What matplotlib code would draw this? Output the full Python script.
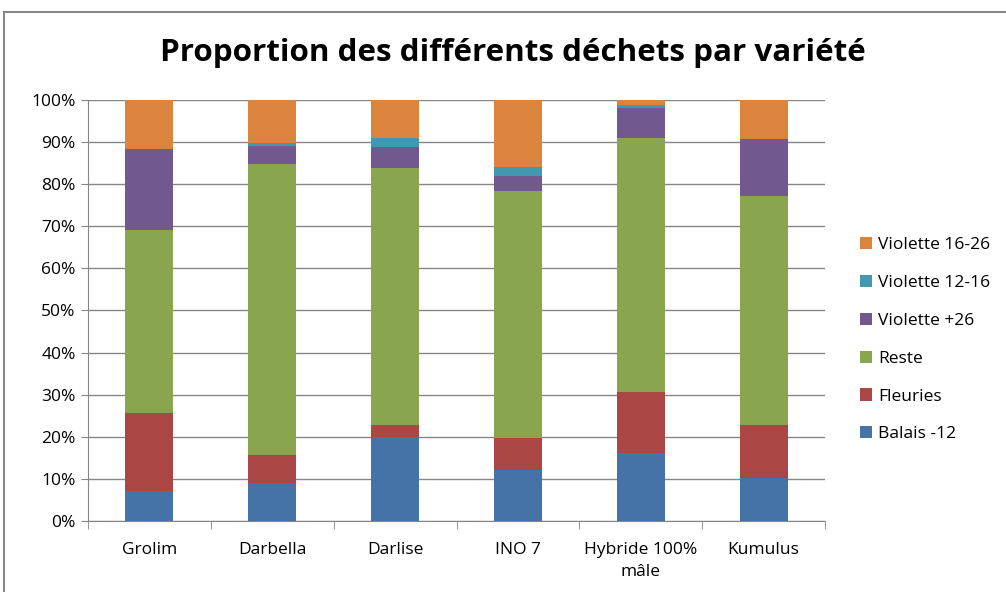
import matplotlib
matplotlib.use("Agg")
import matplotlib.pyplot as plt
from matplotlib.patches import Rectangle
from matplotlib.ticker import FuncFormatter, MultipleLocator
import numpy as np

categories = ["Grolim", "Darbella", "Darlise", "INO 7", "Hybride 100%\nmâle", "Kumulus"]
balais_12 = [7.2, 9.0, 20.0, 12.1, 16.2, 10.2]
fleuries = [18.4, 6.7, 2.7, 7.7, 14.4, 12.7]
reste = [43.5, 69.0, 61.1, 58.7, 60.4, 54.2]
violette_26p = [19.3, 4.4, 5.0, 3.4, 7.0, 13.7]
violette_12_16 = [0.0, 0.7, 2.2, 2.2, 0.8, 0.0]
violette_16_26 = [11.6, 10.2, 9.0, 15.9, 1.2, 9.2]

series = [
    ("Balais -12", balais_12, "#4572a7"),
    ("Fleuries", fleuries, "#aa4643"),
    ("Reste", reste, "#89a54e"),
    ("Violette +26", violette_26p, "#71588f"),
    ("Violette 12-16", violette_12_16, "#4198af"),
    ("Violette 16-26", violette_16_26, "#db843d"),
]

W, H = 1006, 592
fig = plt.figure(figsize=(W / 100, H / 100), dpi=100)
fig.patches.append(Rectangle((4 / W, -0.1), 1.2, (H - 12) / H + 0.1, transform=fig.transFigure,
                             fill=False, edgecolor="#878787", linewidth=1.5))

ax = fig.add_axes([88 / W, 1 - 521 / H, (825 - 88) / W, (521 - 100) / H])
x = np.arange(len(categories))
bottom = np.zeros(len(categories))
handles = []
for name, vals, color in series:
    v = np.array(vals)
    b = ax.bar(x, v, 0.39, bottom=bottom, color=color, label=name, zorder=3)
    handles.append(b)
    bottom += v

ax.set_xlim(-0.5, len(categories) - 0.5)
ax.set_ylim(0, 100)
ax.yaxis.set_major_locator(MultipleLocator(10))
ax.yaxis.set_major_formatter(FuncFormatter(lambda v, p: f"{int(v)}%"))
ax.grid(axis="y", color="#868686", linewidth=1, zorder=0)
for s in ["top", "right"]:
    ax.spines[s].set_visible(False)
ax.spines["left"].set_color("#868686")
ax.spines["bottom"].set_color("#868686")
ax.set_xticks(x)
ax.set_xticklabels(categories, fontsize=12.5, family="Open Sans", linespacing=1.55)
ax.tick_params(axis="x", length=0, pad=15)
ax.set_xticks(np.arange(-0.5, len(categories)), minor=True)
ax.tick_params(axis="x", which="minor", length=6, color="#868686", direction="out")
ax.tick_params(axis="y", length=5, color="#868686", labelsize=12.5, pad=4)
for t in ax.get_yticklabels():
    t.set_family("Open Sans")

fig.text(513 / W, 1 - 53 / H, "Proportion des différents déchets par variété",
         ha="center", va="center", fontsize=22.6, fontweight="bold", family="Open Sans")

leg = fig.legend(handles[::-1], [s[0] for s in series][::-1],
                 loc="upper left", bbox_to_anchor=(853 / W, 1 - 230 / H),
                 frameon=False, prop={"family": "Open Sans", "size": 12.5},
                 handlelength=0.7, handleheight=0.7, handletextpad=0.35,
                 labelspacing=1.25, borderaxespad=0)

fig.savefig("out.png", dpi=100)
